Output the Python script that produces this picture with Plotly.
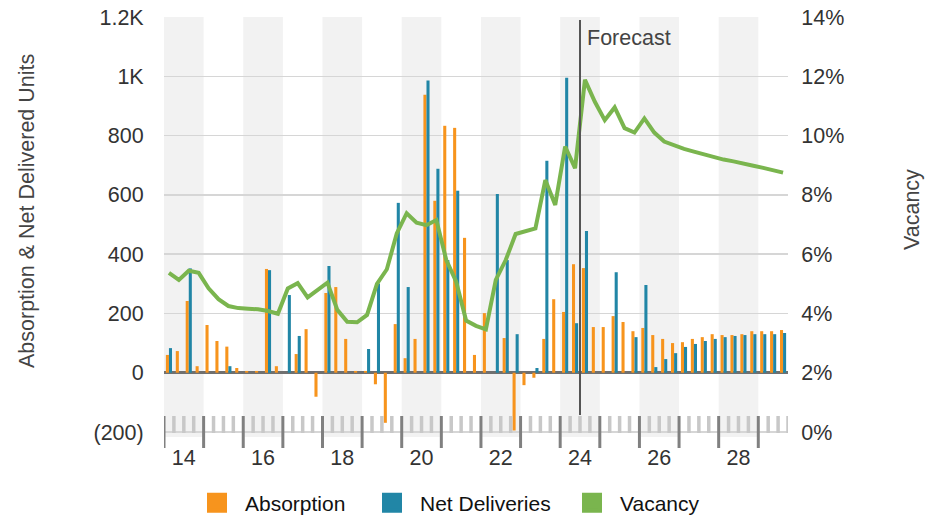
import plotly.graph_objects as go

# ---------------- data ----------------
start_year = 2014
n_quarters = 63  # 2014 Q1 .. 2029 Q3
periods = [f"{start_year + i // 4} Q{i % 4 + 1}" for i in range(n_quarters)]

absorption = [60, 73, 242, 22, 161, 107, 88, 16,
              6, 6, 350, 22, 0, 63, 147, -81,
              269, 289, 114, 6, 6, -39, -169, 164,
              49, 114, 938, 580, 833, 826, 455, 60,
              201, 0, 117, -195, -42, -17, 114, 248,
              205, 366, 353, 154, 154, 191, 171, 140,
              151, 127, 114, 100, 103, 114, 120, 130,
              127, 127, 130, 140, 140, 140, 144]

net_deliveries = [83, 0, 352, 0, 0, 0, 22, 0,
                  0, 0, 346, 0, 262, 124, 0, 0,
                  360, 0, 0, 0, 80, 301, 0, 573,
                  289, 0, 986, 688, 380, 614, 0, 0,
                  0, 603, 380, 130, 0, 16, 715, 0,
                  995, 167, 478, 0, 0, 339, 0, 120,
                  296, 19, 46, 66, 87, 97, 107, 114,
                  120, 124, 127, 130, 130, 130, 134]

vacancy = [5.37, 5.13, 5.44, 5.37, 4.85, 4.48, 4.25, 4.18,
           4.16, 4.14, 4.08, 3.99, 4.84, 5.02, 4.54, 4.79,
           5.04, 4.12, 3.72, 3.70, 3.95, 5.00, 5.49, 6.70,
           7.38, 7.06, 6.98, 7.15, 5.80, 5.07, 3.76, 3.58,
           3.46, 5.13, 5.80, 6.68, 6.79, 6.87, 8.50, 7.66,
           9.63, 8.90, 11.88, 11.14, 10.52, 10.95, 10.25, 10.10,
           10.58, 10.10, 9.80, 9.66, 9.55, 9.46, 9.37, 9.27,
           9.19, 9.13, 9.07, 8.98, 8.91, 8.83, 8.75]

left_tickvals = [-200, 0, 200, 400, 600, 800, 1000, 1200]
left_ticktext = ["(200)", "0", "200", "400", "600", "800", "1K", "1.2K"]
right_tickvals = [0, 2, 4, 6, 8, 10, 12, 14]
right_ticktext = ["0%", "2%", "4%", "6%", "8%", "10%", "12%", "14%"]
year_labels = ["14", "16", "18", "20", "22", "24", "26", "28"]
forecast_start = 2024.5

# ---------------- styling ----------------
ORANGE = "#f7941d"
BLUE = "#2186a6"
GREEN = "#7ab54e"
FONT = "Liberation Sans, Arial, sans-serif"
TXT = "#333333"
FS = 21.5

# quarter midpoints on a continuous year axis
xq = [int(p[:4]) + (int(p[-1]) - 0.5) / 4 for p in periods]

fig = go.Figure()
fig.add_trace(go.Bar(x=xq, y=absorption, name="Absorption", marker=dict(color=ORANGE, line=dict(width=0)),
                     showlegend=False))
fig.add_trace(go.Bar(x=xq, y=net_deliveries, name="Net Deliveries", marker=dict(color=BLUE, line=dict(width=0)),
                     showlegend=False))
fig.add_trace(go.Scatter(x=xq, y=vacancy, name="Vacancy", mode="lines", yaxis="y2",
                         line=dict(color=GREEN, width=4), showlegend=False))

# legend entries (square swatches), one legend each for exact placement
legend_items = [("Absorption", ORANGE, "legend", 217), ("Net Deliveries", BLUE, "legend2", 392),
                ("Vacancy", GREEN, "legend3", 592)]
ITEMW = 46
legend_layouts = {}
for nm, c, lg, cx in legend_items:
    fig.add_trace(go.Scatter(x=[None], y=[None], mode="markers", name=nm, legend=lg,
                             marker=dict(symbol="square", size=16, color=c, line=dict(color=c, width=4))))
    legend_layouts[lg] = dict(orientation="h", xref="container", yref="container",
                              x=(cx - 5 - ITEMW / 2) / 943, xanchor="left",
                              y=1 - 503 / 520, yanchor="middle", itemwidth=ITEMW,
                              font=dict(family=FONT, size=21, color="#111111"),
                              bgcolor="rgba(0,0,0,0)", borderwidth=0)

# ---------------- geometry helpers ----------------
top_px, bot_px = 17, 437
plot_h = bot_px - top_px
def py(p):  # pixel row -> paper y
    return (bot_px - p) / plot_h

x0, x1 = 2014, 2029.75
y_lo = -200 - (bot_px - 432) / ((432 - 17) / 1400)
y2_lo = 0 - (bot_px - 432) / ((432 - 17) / 14)

shapes = []
# alternating year bands
for yr in range(2014, 2030, 2):
    shapes.append(dict(type="rect", xref="x", yref="paper", x0=yr, x1=min(yr + 1, x1), y0=0, y1=1,
                       fillcolor="#f2f2f2", line=dict(width=0), layer="below"))
# minor quarter ticks
q = 2014.25
while q <= x1 + 1e-9:
    if abs(q - round(q)) > 1e-6:
        shapes.append(dict(type="line", xref="x", yref="paper", x0=q, x1=q, y0=py(416), y1=py(433),
                           line=dict(color="#c8c8c8", width=3.5), layer="above"))
    q += 0.25
# major year ticks
for yr in range(2014, 2030):
    shapes.append(dict(type="line", xref="x", yref="paper", x0=yr, x1=yr, y0=py(416), y1=py(448),
                       line=dict(color="#808080", width=3), layer="above"))
# forecast divider
shapes.append(dict(type="line", xref="x", yref="paper", x0=forecast_start, x1=forecast_start,
                   y0=py(415), y1=py(20), line=dict(color="#555555", width=2), layer="above"))

annotations = [
    dict(text="Forecast", x=forecast_start, xref="x", xanchor="left", xshift=5,
         y=py(38), yref="paper", yanchor="middle", showarrow=False,
         font=dict(family=FONT, size=FS, color="#444444")),
    dict(text="Absorption & Net Delivered Units", textangle=-90, xref="paper", yref="paper",
         x=(27 - 164) / 624, y=py(211), xanchor="center", yanchor="middle", showarrow=False,
         font=dict(family=FONT, size=FS, color="#444444")),
    dict(text="Vacancy", textangle=-90, xref="paper", yref="paper",
         x=(912 - 164) / 624, y=py(210), xanchor="center", yanchor="middle", showarrow=False,
         font=dict(family=FONT, size=FS, color="#444444")),
]

fig.update_layout(
    width=943, height=520,
    margin=dict(l=164, r=155, t=17, b=83, autoexpand=False),
    paper_bgcolor="white", plot_bgcolor="white",
    font=dict(family=FONT, size=FS, color=TXT),
    barmode="group", bargap=0.38, bargroupgap=0,
    shapes=shapes, annotations=annotations,
    xaxis=dict(range=[x0, x1], tickvals=[int("20" + t) + 0.5 for t in year_labels], ticktext=year_labels,
               showgrid=False, zeroline=False, showline=False, automargin=False,
               ticks="outside", ticklen=1, tickcolor="rgba(0,0,0,0)",
               tickfont=dict(family=FONT, size=FS, color=TXT)),
    yaxis=dict(range=[y_lo, 1200], tickvals=left_tickvals, ticktext=left_ticktext,
               showgrid=True, gridcolor="#d6d6d6", gridwidth=1.5, automargin=False,
               zeroline=True, zerolinecolor="#707070", zerolinewidth=2.5, showline=False,
               ticks="outside", ticklen=15, tickcolor="rgba(0,0,0,0)",
               tickfont=dict(family=FONT, size=FS, color=TXT)),
    yaxis2=dict(range=[y2_lo, 14], tickvals=right_tickvals, ticktext=right_ticktext,
                overlaying="y", side="right", automargin=False,
                showgrid=False, zeroline=False, showline=False,
                ticks="outside", ticklen=8, tickcolor="rgba(0,0,0,0)",
                tickfont=dict(family=FONT, size=FS, color=TXT)),
    hovermode=False,
    **legend_layouts,
)

fig.write_html("out.html", config={"displayModeBar": False, "staticPlot": True},
               post_script="document.body.style.margin='0px';document.body.style.padding='0px';"
                           "document.documentElement.style.overflow='hidden';")
